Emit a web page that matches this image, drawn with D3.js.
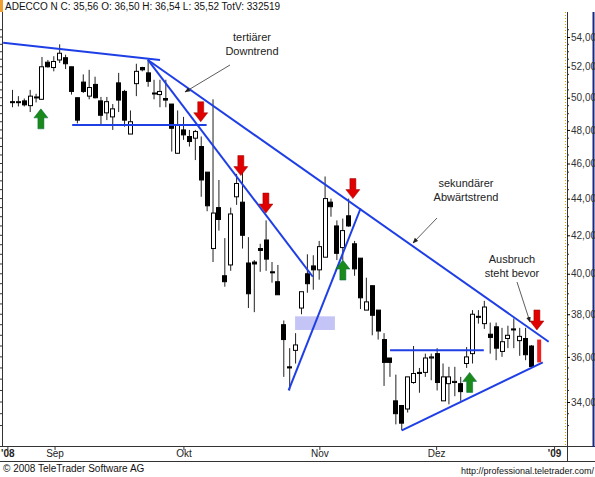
<!DOCTYPE html>
<html><head><meta charset="utf-8">
<script src="https://cdn.jsdelivr.net/npm/d3@7"></script>
<style>body{margin:0;background:#fff}svg{display:block;font-family:"Liberation Sans",Arial,sans-serif}</style>
</head><body>
<svg id="c" width="595" height="477"></svg>
<script>
const open_ = [49.75,49.7,49.8,49.5,50.0,49.9,52.3,51.95,52.45,52.6,52.0,50.0,51.0,50.1,50.85,49.8,49.05,48.8,50.95,50.4,47.75,50.9,51.95,51.6,50.3,50.2,49.95,49.6,46.6,48.0,47.6,47.5,47.0,45.5,41.3,43.5,39.9,40.45,44.1,43.8,40.55,40.6,41.3,41.75,40.1,39.6,37.5,35.55,36.3,38.3,40.0,40.4,40.2,40.85,43.8,42.5,41.35,43.05,41.55,40.8,38.2,39.4,38.2,36.8,35.95,34.05,33.85,33.7,34.85,35.3,35.3,35.95,36.15,34.05,34.8,34.85,34.8,35.7,36.15,37.85,37.55,37.05,37.4,36.25,36.85,37.3,36.75,36.85,36.50];
const high = [50.5,50.1,49.95,50.5,50.25,52.65,52.45,52.7,53.5,52.8,52.0,50.0,51.5,51.8,51.35,50.05,50.05,49.6,51.6,50.5,49.2,52.2,52.0,52.5,51.15,51.15,51.15,49.6,49.2,48.8,48.0,48.0,47.6,45.5,49.9,45.05,41.85,43.5,45.4,45.5,41.9,40.7,41.55,42.8,40.6,40.45,37.7,36.4,37.1,39.1,41.0,40.95,41.7,45.25,44.0,42.8,42.9,44.0,41.7,40.8,39.8,39.4,38.2,37.1,35.95,35.2,33.85,35.1,36.5,35.5,36.15,36.15,36.4,35.7,35.55,35.55,35.1,36.45,38.2,38.2,38.65,37.6,37.6,37.35,37.45,37.8,37.35,37.35,36.54];
const low = [49.4,49.45,49.45,49.1,49.7,49.9,51.95,51.7,52.25,51.85,50.2,48.4,50.3,49.9,49.95,48.3,48.6,48.0,49.1,48.2,47.75,50.1,51.7,50.7,49.9,49.4,49.4,46.7,46.6,47.4,47.0,46.2,44.1,43.3,40.6,42.25,39.35,40.15,43.65,41.3,38.3,38.1,40.1,40.15,39.55,38.95,35.1,34.5,35.7,38.0,39.05,39.2,39.7,40.85,43.0,40.7,40.7,42.45,39.9,38.25,38.2,37.0,36.8,34.7,35.1,33.05,32.8,33.55,34.8,34.4,35.1,34.95,34.5,34.05,33.9,34.25,34.05,35.5,35.7,37.55,37.3,36.15,35.85,36.0,36.4,36.4,36.05,35.85,35.52];
const close = [49.7,49.75,49.55,50.1,50.05,52.0,52.0,52.35,52.9,52.2,50.4,48.6,50.4,50.65,50.0,48.9,49.75,49.3,49.85,48.6,48.5,51.7,51.8,51.05,50.3,50.4,49.85,48.1,48.3,47.7,47.3,47.9,45.05,43.6,43.2,42.85,39.6,43.15,44.85,42.0,39.0,40.5,41.2,40.75,40.05,38.95,36.8,35.5,36.55,39.1,39.5,40.2,41.4,44.0,43.55,41.05,42.25,42.5,40.25,38.8,38.6,37.95,37.2,35.75,35.75,33.5,33.1,35.1,35.25,35.25,35.95,36.0,34.85,35.1,35.1,34.9,34.45,36.0,38.0,37.9,38.35,36.9,36.4,36.7,37.0,37.25,36.95,36.1,35.56];
const monthLabels = ["'08","Sep","Okt","Nov","Dez","'09"];
const monthPos = [-0.7,7.3,29.15,52.2,72.0,92.0];
const priceTicks = [34,36,38,40,42,44,46,48,50,52,54];
// trend lines [i1,p1,i2,p2]
const trendLines = [[-1.5,53.6,25.1,52.45],[10.2,48.3,33.0,48.3],[23.05,52.45,51.0,39.85],[23.05,52.45,91.0,36.7],[46.9,34.5,59.1,43.45],[64.1,36.3,80.0,36.3],[66.1,32.8,90.0,35.75]];
const upArrows = [[4.9,49.3],[56.1,40.7],[77.6,35.3]];
const downArrows = [[32.0,48.5],[38.8,45.3],[43.05,43.2],[57.8,44.0],[89.0,37.25]];
const zone = [48,54.75,37.9,37.25];
const redBar = [89.3,36.8,35.75];

const svg = d3.select("#c");
const x = d3.scaleLinear().domain([0,88]).range([12,531]);
const y = d3.scaleLog().domain([34,54]).range([402,37]);
const blue = "#1f3fe6";

// frame
svg.append("rect").attr("x",0).attr("y",0).attr("width",3).attr("height",12).attr("fill","#f0a030");
svg.append("line").attr("x1",0).attr("x2",595).attr("y1",446.5).attr("y2",446.5).attr("stroke","#333");
svg.append("line").attr("x1",0).attr("x2",595).attr("y1",461.5).attr("y2",461.5).attr("stroke","#333");
svg.append("line").attr("x1",593.5).attr("x2",593.5).attr("y1",12).attr("y2",447).attr("stroke","#1a2a80").attr("stroke-width",2);
svg.append("line").attr("x1",567.5).attr("x2",567.5).attr("y1",12).attr("y2",461).attr("stroke","#333");
svg.append("line").attr("x1",565.5).attr("x2",565.5).attr("y1",12).attr("y2",446).attr("stroke","#e0a000").attr("stroke-dasharray","1,2");
svg.append("line").attr("x1",2.5).attr("x2",2.5).attr("y1",12).attr("y2",446).attr("stroke","#333");

// right axis
const ra = svg.append("g").attr("transform","translate(567,0)")
  .call(d3.axisRight(y).tickValues(priceTicks).tickSize(3).tickFormat(d=>d3.format(".2f")(d).replace(".",",")));
ra.select(".domain").remove();
ra.selectAll("text").attr("font-size",10).attr("font-family","Liberation Sans, Arial").attr("fill","#333").attr("x",4);
const minor = d3.range(33,55,0.5).filter(v=>v%2!==0);
svg.append("g").selectAll("line").data(minor).join("line").attr("x1",567).attr("x2",569).attr("y1",d=>y(d)).attr("y2",d=>y(d)).attr("stroke","#333");
// left ticks
svg.append("g").selectAll("line").data(d3.range(33,55,0.5)).join("line").attr("x1",0).attr("x2",d=>d%2===0?3:2).attr("y1",d=>y(d)).attr("y2",d=>y(d)).attr("stroke","#333");

// bottom axis
svg.append("g").selectAll("line").data(monthPos).join("line").attr("x1",d=>x(d)).attr("x2",d=>x(d)).attr("y1",446).attr("y2",450).attr("stroke","#333");
svg.append("g").selectAll("text").data(monthLabels).join("text").attr("x",(d,i)=>x(monthPos[i])).attr("y",457).attr("text-anchor","middle")
  .attr("font-size",10).attr("font-weight",(d,i)=>(i===0||i===5)?"bold":"normal").attr("fill","#222").text(d=>d);

// zone
svg.append("rect").attr("x",x(zone[0])).attr("width",x(zone[1])-x(zone[0])).attr("y",y(zone[2])).attr("height",y(zone[3])-y(zone[2])).attr("fill","#c4c4f6");

// candles
const idx = d3.range(open_.length);
const g = svg.append("g");
g.selectAll("line").data(idx).join("line").attr("x1",i=>x(i)+0.5).attr("x2",i=>x(i)+0.5).attr("y1",i=>y(high[i])).attr("y2",i=>y(low[i])).attr("stroke","#222");
g.selectAll("rect").data(idx).join("rect")
  .attr("x",i=>Math.round(x(i))-1.5).attr("width",4)
  .attr("y",i=>y(Math.max(open_[i],close[i]))).attr("height",i=>Math.max(1,Math.abs(y(open_[i])-y(close[i]))))
  .attr("fill",i=>close[i]>=open_[i]?"#fff":"#000").attr("stroke","#000").attr("stroke-width",1);

// trend lines
svg.append("g").selectAll("line").data(trendLines).join("line")
  .attr("x1",d=>x(d[0])).attr("y1",d=>y(d[1])).attr("x2",d=>x(d[2])).attr("y2",d=>y(d[3])).attr("stroke",blue).attr("stroke-width",2);

// arrows
const upPath = "M0,0 L7,-9 L3,-9 L3,0 Z";
function arrow(cx,tipY,dir,color){
  const s = dir; // 1 down, -1 up
  const p = `M${cx},${tipY} L${cx-7},${tipY-9*s} L${cx-3},${tipY-9*s} L${cx-3},${tipY-20*s} L${cx+3},${tipY-20*s} L${cx+3},${tipY-9*s} L${cx+7},${tipY-9*s} Z`;
  svg.append("path").attr("d",p).attr("fill",color).attr("stroke",color==="#e00000"?"#900":"#064").attr("stroke-width",0.5);
}
upArrows.forEach(d=>arrow(x(d[0]),y(d[1]),-1,"#1a8a1a"));
downArrows.forEach(d=>arrow(x(d[0]),y(d[1]),1,"#e00000"));
svg.append("rect").attr("x",x(redBar[0])-1.5).attr("width",4).attr("y",y(redBar[1])).attr("height",y(redBar[2])-y(redBar[1])).attr("fill","#f02020");

// annotations
function label(lines,cx,y0){
  lines.forEach((t,i)=>svg.append("text").attr("x",cx).attr("y",y0+i*14).attr("text-anchor","middle").attr("font-size",11).attr("fill","#222").text(t));
}
label(["tertiärer","Downtrend"],252,41);
label(["sekundärer","Abwärtstrend"],466,187);
label(["Ausbruch","steht bevor"],512,263);
svg.append("defs").append("marker").attr("id","ah").attr("viewBox","0 0 10 10").attr("refX",9).attr("refY",5).attr("markerWidth",7).attr("markerHeight",7).attr("orient","auto")
  .append("path").attr("d","M0,1 L10,5 L0,9 Z").attr("fill","#222");
[[230,65,185,92],[437,218,413,243],[517,282,530,322]].forEach(a=>svg.append("line").attr("x1",a[0]).attr("y1",a[1]).attr("x2",a[2]).attr("y2",a[3]).attr("stroke","#333").attr("stroke-width",0.8).attr("marker-end","url(#ah)"));

// header/footer
svg.append("text").attr("x",5).attr("y",10).attr("font-size",10).attr("fill","#111").text("ADECCO N C: 35,56 O: 36,50 H: 36,54 L: 35,52 TotV: 332519");
svg.append("text").attr("x",3).attr("y",472).attr("font-size",10).attr("fill","#111").text("© 2008 TeleTrader Software AG");
svg.append("text").attr("x",594).attr("y",474).attr("text-anchor","end").attr("font-size",9).attr("fill","#111").text("http://professional.teletrader.com/");
</script>
</body></html>
